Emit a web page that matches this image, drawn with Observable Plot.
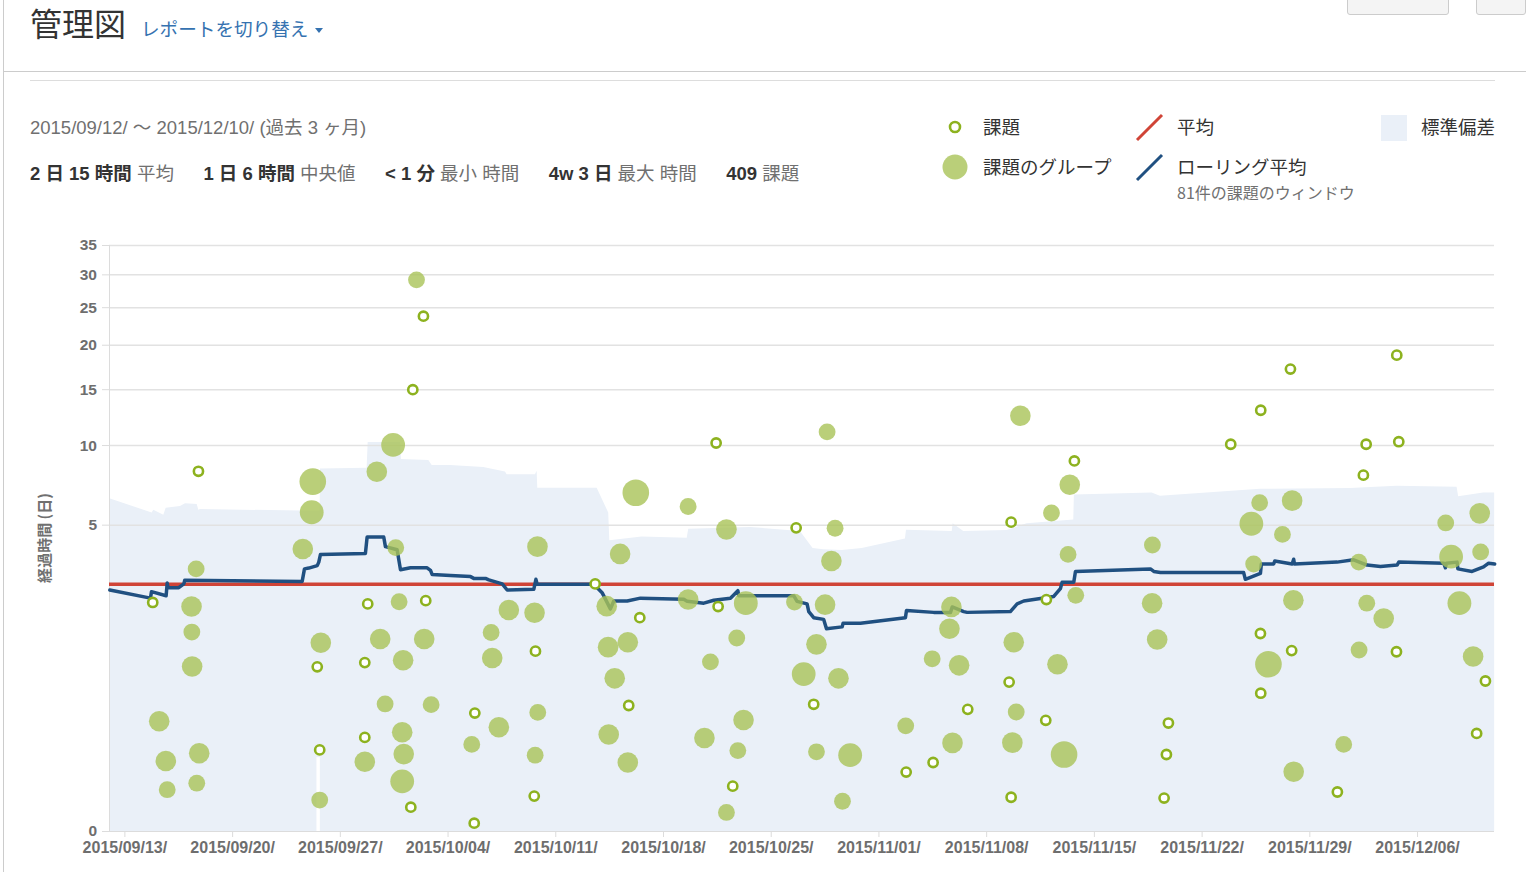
<!DOCTYPE html>
<html><head><meta charset="utf-8">
<script src="https://cdn.jsdelivr.net/npm/d3@7"></script>
<script src="https://cdn.jsdelivr.net/npm/@observablehq/plot@0.6"></script>
<style>
body{margin:0;background:#fff;font-family:"Liberation Sans","Noto Sans CJK JP",Arial,sans-serif;}
#page{position:relative;width:1526px;height:872px;overflow:hidden;background:#fff;}
.abs{position:absolute;white-space:nowrap;line-height:1;}
.title{left:30px;top:6px;font-size:32px;color:#333;font-family:"Noto Sans CJK JP",sans-serif;}
.switch{left:141px;top:19px;font-size:18.6px;color:#3572b0;font-family:"Noto Sans CJK JP",sans-serif;}
.caret{left:315px;top:28px;width:0;height:0;border-left:4.5px solid transparent;border-right:4.5px solid transparent;border-top:5px solid #3572b0;}
.hline{height:1px;background:#ccc;}
.vline{width:1px;background:#ccc;}
.btn{top:-12px;height:25px;background:#f4f4f4;border:1px solid #ccc;border-radius:3px;}
.range{left:30px;top:119px;font-size:18.5px;color:#707070;}
.stats{left:30px;top:165px;font-size:18.5px;color:#707070;}
.stats b{color:#333;}
.stats span{margin-right:29.5px;}
.lg{font-size:18.5px;color:#333;font-family:"Noto Sans CJK JP",sans-serif;}
.lgs{font-size:16px;color:#707070;font-family:"Noto Sans CJK JP",sans-serif;}
.ytitle{left:43px;top:538px;font-size:15px;font-weight:bold;color:#707070;transform:translate(-50%,-50%) rotate(-90deg);font-family:"Noto Sans CJK JP",sans-serif;}
#chart{position:absolute;left:0;top:230px;}
#chart g[aria-label*="axis"] line, #chart g[aria-label*="axis"] path{stroke:#dcdcdc;}
#chart g[aria-label*="axis"] text{fill:#6e6e6e;font-weight:bold;}
#chart g[aria-label^="x-axis"] text{font-size:16px;}
#chart g[aria-label^="y-axis"] text{font-size:15.5px;}
</style></head>
<body>
<div id="page">
  <div class="abs vline" style="left:3px;top:0;height:872px;"></div>
  <div class="abs title">管理図</div>
  <div class="abs switch">レポートを切り替え</div>
  <div class="abs caret"></div>
  <div class="abs btn" style="left:1347px;width:100px;"></div>
  <div class="abs btn" style="left:1476px;width:48px;"></div>
  <div class="abs hline" style="left:3px;top:71px;width:1523px;"></div>
  <div class="abs hline" style="left:30px;top:80px;width:1465px;background:#ddd;"></div>
  <div class="abs range">2015/09/12/ 〜 2015/12/10/ (過去 3 ヶ月)</div>
  <div class="abs stats">
    <span><b>2 日 15 時間</b> 平均</span><span><b>1 日 6 時間</b> 中央値</span><span><b>&lt; 1 分</b> 最小 時間</span><span><b>4w 3 日</b> 最大 時間</span><span><b>409</b> 課題</span>
  </div>
  <svg class="abs" style="left:0;top:0;" width="1526" height="220">
    <circle cx="955" cy="127" r="5" fill="#fff" stroke="#8db21f" stroke-width="2.6"/>
    <circle cx="955" cy="167" r="12.5" fill="#a9c358" fill-opacity="0.8"/>
    <line x1="1137" y1="140" x2="1162" y2="115" stroke="#d04437" stroke-width="3"/>
    <line x1="1137" y1="180" x2="1162" y2="155" stroke="#205081" stroke-width="3"/>
    <rect x="1381" y="115" width="26" height="26" fill="#eaf0f8"/>
  </svg>
  <div class="abs lg" style="left:983px;top:117px;">課題</div>
  <div class="abs lg" style="left:983px;top:157px;">課題のグループ</div>
  <div class="abs lg" style="left:1177px;top:117px;">平均</div>
  <div class="abs lg" style="left:1177px;top:157px;">ローリング平均</div>
  <div class="abs lgs" style="left:1177px;top:184px;">81件の課題のウィンドウ</div>
  <div class="abs lg" style="left:1421px;top:117px;">標準偏差</div>
  <div class="abs ytitle">経過時間 (日)</div>
  <div id="chart"></div>
</div>
<script>
// day offsets from 2015-09-12 (UTC) and elapsed time in days
const startDate = "2015-09-12";
const endOffset = 90;
const meanDays = 2.625; // 2日15時間
const xTickDates = ["2015-09-13","2015-09-20","2015-09-27","2015-10-04","2015-10-11","2015-10-18","2015-10-25","2015-11-01","2015-11-08","2015-11-15","2015-11-22","2015-11-29","2015-12-06"];
const yTicks = [0, 5, 10, 15, 20, 25, 30, 35];

// single issues: [day offset, days]
const issues = [
[2.81,2.09],[5.78,8.13],[13.50,0.777],[13.66,0.0945],[16.78,2.05],[16.59,0.838],[16.59,0.145],[20.40,23.8],[19.71,15.0],[20.55,2.14],[19.58,0.0025],
[39.42,10.2],[44.62,4.87],[31.56,2.64],[34.46,1.70],[27.68,1.02],[33.74,0.348],[23.74,0.289],[27.60,0.0077],[23.70,0.0001],[39.55,1.98],[40.50,0.0162],
[45.76,0.358],[51.77,0.0365],[53.52,0.0571],[55.77,0.317],[58.59,5.15],[58.46,0.580],[58.59,0.0070],[60.88,2.17],[60.84,0.239],[62.70,8.85],
[72.86,10.1],[74.81,13.0],[76.74,17.2],[74.79,1.35],[76.82,1.03],[74.81,0.460],[68.81,0.222],[68.68,0.0794],[68.53,0.0065],[79.79,0.0107],
[81.48,7.87],[81.66,10.1],[83.65,18.8],[83.78,10.3],[83.63,1.01],[89.41,0.593],[88.84,0.164]
];

// issue groups: [day offset, days, issues in group]
const groups = [
[5.63,3.15,2],[5.33,1.98,3],[5.35,1.38,2],[5.37,0.781,3],[3.23,0.233,3],[3.66,0.0609,3],[5.83,0.0832,3],[3.75,0.0127,2],[5.67,0.0196,2],
[13.21,7.45,5],[13.14,5.66,4],[12.56,3.92,3],[13.73,1.17,3],[13.66,0.0054,2],
[17.37,8.10,3],[18.43,10.05,4],[19.95,29.2,2],[18.60,3.98,2],[18.82,2.11,2],[17.59,1.24,3],[20.45,1.24,3],[19.08,0.873,3],[17.91,0.361,2],[20.90,0.355,2],[19.02,0.170,3],[19.12,0.0806,3],[16.59,0.0591,3],[19.02,0.0220,4],
[34.20,6.76,5],[37.60,5.97,2],[40.09,4.79,3],[33.18,3.72,3],[27.81,4.02,3],[25.95,1.89,3],[27.62,1.82,3],[24.80,1.37,2],[24.87,0.908,3],[25.30,0.197,3],[23.54,0.115,2],[27.83,0.294,2],[27.66,0.0773,2],
[32.31,1.99,3],[32.40,1.09,3],[33.68,1.18,3],[32.83,0.625,3],[32.44,0.159,3],[33.68,0.0571,3],[37.60,2.17,3],[39.05,0.849,2],[38.66,0.142,3],[41.35,2.07,4],[40.76,1.26,2],[41.20,0.241,3],[40.83,0.0921,2],[40.09,0.0012,2],[44.51,2.10,2],
[46.63,11.1,2],[47.15,4.85,2],[46.91,3.44,3],[46.50,2.03,3],[45.94,1.14,3],[45.11,0.678,4],[47.37,0.625,3],[45.94,0.088,2],[48.13,0.0773,4],[47.63,0.0048,2],
[59.19,12.5,3],[61.21,5.62,2],[62.40,7.25,3],[62.29,3.70,2],[62.79,2.29,2],[54.71,1.97,3],[54.58,1.45,3],[53.46,0.896,2],[55.21,0.798,3],[51.74,0.205,2],[54.78,0.121,3],[58.76,1.18,3],[61.60,0.814,3],[58.92,0.297,2],[58.67,0.122,3],[62.03,0.0794,5],[67.77,4.09,2],[67.75,2.07,3],[68.08,1.23,3],
[74.74,6.18,2],[74.20,5.07,4],[76.22,4.56,2],[76.85,6.30,3],[74.35,3.33,2],[76.93,2.15,3],[75.31,0.814,5],[76.95,0.0372,3],[81.18,3.40,2],[81.70,2.07,2],[82.80,1.68,3],[81.20,1.04,2],[80.20,0.115,2],[86.83,5.11,2],[89.04,5.60,3],[87.18,3.61,4],[89.10,3.80,2],[87.72,2.07,4],[88.61,0.932,3]
];

// rolling average (81-issue window): [day offset, days]
const rolling = [
[0.02,2.45],[2.66,2.21],[2.73,2.40],[3.68,2.28],[3.75,2.67],[3.81,2.52],[4.50,2.52],[4.83,2.64],[4.89,2.76],[12.52,2.72],[12.67,3.15],[12.95,3.18],[13.50,3.27],[13.60,3.40],[13.71,3.70],[16.63,3.74],[16.74,4.44],[17.82,4.44],[17.93,4.02],[18.69,3.89],[18.91,3.12],[19.56,3.19],[20.64,3.19],[20.86,3.10],[20.97,2.95],[22.16,2.92],[23.46,2.88],[23.67,2.82],[24.43,2.82],[24.65,2.77],[25.52,2.64],[25.84,2.45],[27.57,2.47],[27.71,2.79],[27.79,2.63],[31.47,2.63],[32.01,2.37],[32.55,1.92],[32.77,2.13],[33.64,2.13],[34.50,2.21],[37.32,2.18],[37.54,2.12],[38.62,2.07],[39.27,2.15],[40.35,2.21],[40.83,2.43],[40.89,2.28],[44.46,2.28],[44.68,2.12],[45.33,2.05],[45.44,1.85],[45.76,1.70],[46.41,1.66],[46.59,1.45],[47.61,1.49],[47.67,1.57],[48.80,1.57],[51.72,1.70],[51.79,1.88],[53.56,1.83],[54.65,1.83],[54.76,1.97],[55.51,1.85],[55.73,1.83],[58.54,1.85],[58.98,2.05],[59.41,2.13],[61.36,2.26],[61.79,2.49],[61.90,2.69],[62.66,2.69],[62.77,3.06],[67.64,3.15],[67.86,3.06],[68.29,3.02],[73.70,3.02],[73.81,2.79],[74.79,2.99],[74.85,3.33],[75.65,3.33],[75.72,3.44],[76.85,3.33],[76.95,3.51],[77.00,3.33],[79.77,3.40],[80.85,3.49],[81.72,3.29],[82.59,3.24],[83.67,3.29],[83.78,3.40],[86.70,3.36],[86.81,3.19],[86.87,3.36],[87.57,3.40],[87.62,3.15],[88.54,3.06],[89.29,3.22],[89.62,3.36],[90.01,3.33]
];

// standard deviation band upper edge: [day offset, days]
const stdUpper = [
[0.02,6.41],[2.77,5.62],[2.88,5.76],[3.53,5.50],[3.68,5.87],[4.61,5.97],[4.94,6.12],[5.70,6.08],[5.80,5.76],[5.91,5.81],[12.41,5.72],[13.69,5.72],[13.71,8.29],[16.74,8.34],[16.81,10.23],[18.91,10.23],[18.97,8.96],[20.75,8.88],[20.97,8.53],[22.16,8.53],[24.32,8.39],[25.73,8.08],[25.84,7.90],[27.68,7.90],[27.79,8.13],[27.83,7.04],[31.69,7.04],[32.44,5.62],[32.51,4.27],[34.61,4.44],[37.54,4.39],[37.64,4.80],[41.65,4.89],[44.90,4.70],[45.44,4.19],[45.72,3.94],[46.41,3.89],[47.61,3.86],[48.91,3.94],[51.72,4.35],[51.79,4.76],[54.76,4.70],[54.82,5.07],[55.51,4.70],[58.33,4.74],[59.63,5.07],[62.66,5.26],[62.70,6.63],[67.75,6.74],[68.29,6.56],[74.79,6.97],[80.64,7.02],[83.67,7.16],[87.57,7.09],[87.67,6.52],[89.29,6.74],[90.01,6.74]
];
// where the band's lower edge rises above zero: [from, to, days]
const stdLowerGaps = [[13.48, 13.70, 0.07]];

const t0 = Date.parse(startDate + "T00:00:00Z");
const DAY = 86400000;
const toDate = t => new Date(t0 + t * DAY);

const issueData = issues.map(([t, v]) => ({date: toDate(t), v}));
const groupData = groups.map(([t, v, n]) => ({date: toDate(t), v, n}));
const rollData = rolling.map(([t, v]) => ({date: toDate(t), v}));
const bandData = stdUpper.map(([t, v]) => ({date: toDate(t), v}));
const gapData = stdLowerGaps.map(([a, b, v]) => ({x1: toDate(a), x2: toDate(b), v}));

const chart = Plot.plot({
  width: 1526, height: 642,
  marginLeft: 109, marginRight: 32, marginTop: 15, marginBottom: 41,
  style: {background: "transparent", fontFamily: "'Liberation Sans', Arial, sans-serif", fontSize: "15px", color: "#6e6e6e", overflow: "visible"},
  x: {type: "utc", domain: [toDate(0), toDate(endOffset)], ticks: xTickDates.map(s => new Date(s + "T00:00:00Z")), tickFormat: d3.utcFormat("%Y/%m/%d/"), tickSize: 6, tickPadding: 4, label: null},
  y: {type: "pow", exponent: 1/3, domain: [0, 35], ticks: yTicks, tickSize: 7, tickPadding: 5.5, label: null},
  r: {type: "sqrt", domain: [0, 5], range: [0, 13.3]},
  marks: [
    Plot.areaY(bandData, {x: "date", y: "v", fill: "#eaf0f8"}),
    Plot.rectY(gapData, {x1: "x1", x2: "x2", y: "v", fill: "#ffffff"}),
    Plot.ruleY(yTicks.filter(d => d > 0), {stroke: "#e2e2e2", strokeWidth: 1.5}),
    Plot.ruleY([0], {stroke: "#dcdcdc"}),
    Plot.ruleX([toDate(0)], {stroke: "#dcdcdc"}),
    Plot.ruleY([meanDays], {stroke: "#d04437", strokeWidth: 3.5}),
    Plot.line(rollData, {x: "date", y: "v", stroke: "#205081", strokeWidth: 3.5}),
    Plot.dot(groupData, {x: "date", y: "v", r: "n", fill: "#a9c358", fillOpacity: 0.8}),
    Plot.dot(issueData, {x: "date", y: "v", r: 4.6, fill: "#ffffff", stroke: "#8db21f", strokeWidth: 2.6})
  ]
});
document.getElementById("chart").appendChild(chart);
</script>
</body></html>
